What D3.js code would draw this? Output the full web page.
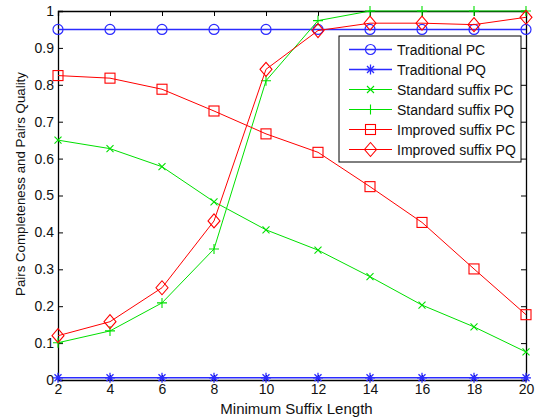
<!DOCTYPE html>
<html>
<head>
<meta charset="utf-8">
<script src="https://cdn.jsdelivr.net/npm/d3@7"></script>
<style>
body { margin: 0; background: #fff; }
svg { font-family: "Liberation Sans", Arial, sans-serif; }
</style>
</head>
<body>
<div id="container"></div>
<script>
var lengths = [2, 4, 6, 8, 10, 12, 14, 16, 18, 20];
var tradPC = [0.95, 0.95, 0.95, 0.95, 0.95, 0.95, 0.95, 0.95, 0.95, 0.95];
var tradPQ = [0.006, 0.006, 0.006, 0.006, 0.006, 0.006, 0.006, 0.006, 0.006, 0.006];
var stdPC = [0.650, 0.627, 0.578, 0.483, 0.407, 0.352, 0.280, 0.203, 0.144, 0.076];
var stdPQ = [0.101, 0.133, 0.209, 0.355, 0.811, 0.974, 1.0, 1.0, 1.0, 1.0];
var impPC = [0.825, 0.818, 0.788, 0.729, 0.667, 0.617, 0.524, 0.427, 0.301, 0.177];
var impPQ = [0.120, 0.158, 0.250, 0.431, 0.842, 0.947, 0.967, 0.967, 0.963, 0.983];
var yTicks = [0, 0.1, 0.2, 0.3, 0.4, 0.5, 0.6, 0.7, 0.8, 0.9, 1];
var seriesNames = ["Traditional PC", "Traditional PQ", "Standard suffix PC", "Standard suffix PQ", "Improved suffix PC", "Improved suffix PQ"];

var series = [
    {name: seriesNames[0], values: tradPC, color: "#2b2bff", width: 1.6, marker: "circle"},
    {name: seriesNames[1], values: tradPQ, color: "#2b2bff", width: 1.6, marker: "star"},
    {name: seriesNames[2], values: stdPC, color: "#00e000", width: 1, marker: "x"},
    {name: seriesNames[3], values: stdPQ, color: "#00e000", width: 1, marker: "plus"},
    {name: seriesNames[4], values: impPC, color: "#ff0000", width: 1, marker: "square"},
    {name: seriesNames[5], values: impPQ, color: "#ff0000", width: 1, marker: "diamond"}
];

var width = 547, height = 417;
var margin = {top: 11, right: 21, bottom: 37, left: 58};
var w = width - margin.left - margin.right, h = height - margin.top - margin.bottom;

var x = d3.scaleLinear().domain([2, 20]).range([0, w]);
var y = d3.scaleLinear().domain([0, 1]).range([h, 0]);

var svg = d3.select('#container').append('svg').attr('width', width).attr('height', height);
var g = svg.append('g').attr('transform', 'translate(' + margin.left + ',' + margin.top + ')');

function drawMarker(sel, type, color) {
    if (type === "circle") {
        sel.append('circle').attr('r', 5).attr('fill', 'none').attr('stroke', color).attr('stroke-width', 1.2);
    } else if (type === "square") {
        sel.append('rect').attr('x', -5).attr('y', -5).attr('width', 10).attr('height', 10)
            .attr('fill', 'none').attr('stroke', color).attr('stroke-width', 1.1);
    } else if (type === "diamond") {
        sel.append('path').attr('d', 'M0,-7L6,0L0,7L-6,0Z').attr('fill', 'none').attr('stroke', color).attr('stroke-width', 1.1);
    } else if (type === "plus") {
        sel.append('path').attr('d', 'M-5,0H5M0,-5V5').attr('stroke', color).attr('stroke-width', 1.1);
    } else if (type === "x") {
        sel.append('path').attr('d', 'M-3.5,-3.5L3.5,3.5M-3.5,3.5L3.5,-3.5').attr('stroke', color).attr('stroke-width', 1.1);
    } else if (type === "star") {
        sel.append('path').attr('d', 'M-5,0H5M0,-5V5M-3.5,-3.5L3.5,3.5M-3.5,3.5L3.5,-3.5').attr('stroke', color).attr('stroke-width', 1.3);
    }
}

// axes with inward ticks on all four sides
var xAxis = d3.axisBottom(x).tickValues(lengths).tickSize(-5).tickPadding(4).tickFormat(d3.format('d'));
var yAxis = d3.axisLeft(y).tickValues(yTicks).tickSize(-5).tickPadding(4).tickFormat(function (d) { return d === 0 || d === 1 ? d : d3.format('.1f')(d); });
var xTop = d3.axisTop(x).tickValues(lengths).tickSize(-5).tickFormat('');
var yRight = d3.axisRight(y).tickValues(yTicks).tickSize(-5).tickFormat('');

g.append('g').attr('class', 'x axis').attr('transform', 'translate(0,' + h + ')').call(xAxis);
g.append('g').attr('class', 'y axis').call(yAxis);
g.append('g').attr('class', 'axis').call(xTop);
g.append('g').attr('class', 'axis').attr('transform', 'translate(' + w + ',0)').call(yRight);
g.selectAll('.tick text').attr('font-size', 14).attr('fill', '#111').attr('font-family', '"Liberation Sans", Arial, sans-serif');
g.selectAll('.domain').attr('stroke', '#000').attr('stroke-width', 1.3);

var line = d3.line().x(function (d, i) { return x(lengths[i]); }).y(function (d) { return y(d); });

series.forEach(function (s) {
    g.append('path').datum(s.values).attr('d', line).attr('fill', 'none')
        .attr('stroke', s.color).attr('stroke-width', s.width);
    g.selectAll(null).data(s.values).enter().append('g')
        .attr('transform', function (d, i) { return 'translate(' + x(lengths[i]) + ',' + y(d) + ')'; })
        .each(function () { drawMarker(d3.select(this), s.marker, s.color); });
});

// legend
var legend = g.append('g').attr('transform', 'translate(' + (339 - margin.left) + ',' + (36 - margin.top) + ')');
legend.append('rect').attr('width', 182).attr('height', 126).attr('fill', '#fff').attr('stroke', '#000').attr('stroke-width', 1);
series.forEach(function (s, i) {
    var row = legend.append('g').attr('transform', 'translate(0,' + (13.5 + i * 20) + ')');
    row.append('line').attr('x1', 10).attr('x2', 53).attr('stroke', s.color).attr('stroke-width', s.width);
    drawMarker(row.append('g').attr('transform', 'translate(31.5,0)'), s.marker, s.color);
    row.append('text').attr('x', 58).attr('dy', '0.36em').attr('font-size', 14).attr('fill', '#111').text(s.name);
});

// axis labels
svg.append('text').attr('x', 296.5).attr('y', 414).attr('text-anchor', 'middle')
    .attr('font-size', 15).attr('fill', '#111').text('Minimum Suffix Length');
svg.append('text').attr('transform', 'translate(25,184) rotate(-90)')
    .attr('text-anchor', 'middle').attr('font-size', 13.3).attr('fill', '#111').text('Pairs Completeness and Pairs Quality');
</script>
</body>
</html>
